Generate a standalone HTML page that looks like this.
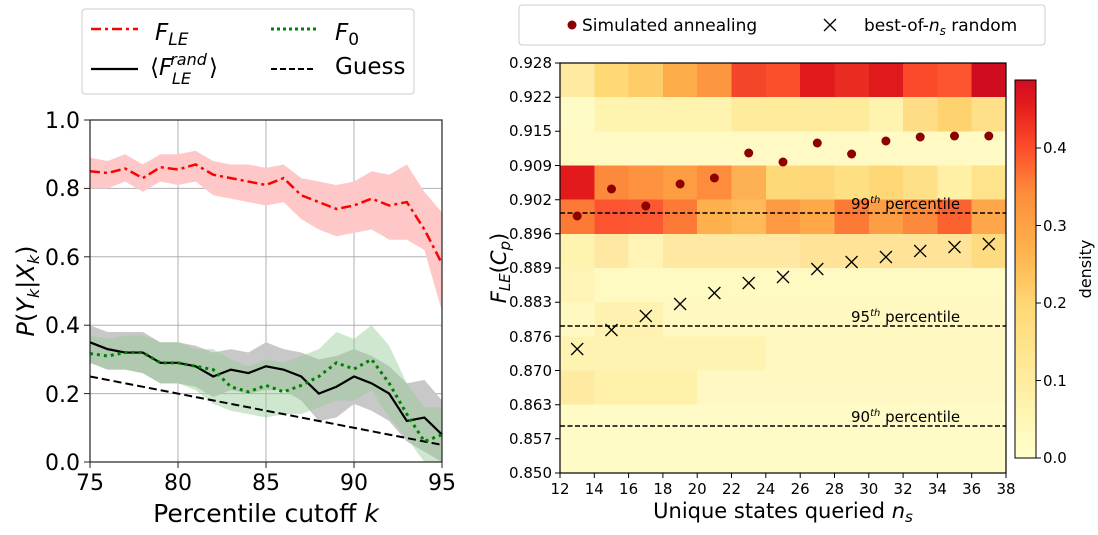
<!DOCTYPE html>
<html><head><meta charset="utf-8"><style>
body{margin:0;background:#fff;width:1098px;height:535px;overflow:hidden}
svg{display:block;font-family:"DejaVu Sans","Liberation Sans",sans-serif}
</style></head><body>
<svg width="1098" height="535" viewBox="0 0 1098 535" xmlns="http://www.w3.org/2000/svg">
<!-- LEFT PLOT -->
<g stroke="#b0b0b0" stroke-width="1">
<line x1="178" y1="120" x2="178" y2="462"/><line x1="266" y1="120" x2="266" y2="462"/><line x1="354" y1="120" x2="354" y2="462"/>
<line x1="90" y1="188.4" x2="442" y2="188.4"/><line x1="90" y1="256.8" x2="442" y2="256.8"/><line x1="90" y1="325.2" x2="442" y2="325.2"/><line x1="90" y1="393.6" x2="442" y2="393.6"/>
</g>
<g transform="translate(90,462) scale(17.6,-342)">
<polygon fill="#ffc8c8" points="0,0.89 1,0.88 2,0.90 3,0.87 4,0.90 5,0.90 6,0.91 7,0.88 8,0.87 9,0.87 10,0.86 11,0.87 12,0.83 13,0.82 14,0.81 15,0.82 16,0.85 17,0.84 18,0.87 19,0.79 20,0.73 20,0.44 19,0.62 18,0.65 17,0.65 16,0.68 15,0.67 14,0.66 13,0.68 12,0.71 11,0.76 10,0.75 9,0.76 8,0.77 7,0.78 6,0.82 5,0.81 4,0.82 3,0.79 2,0.82 1,0.80 0,0.80"/>
<polygon fill="#c8c8c8" points="0,0.40 1,0.38 2,0.38 3,0.38 4,0.35 5,0.35 6,0.34 7,0.32 8,0.33 9,0.32 10,0.35 11,0.33 12,0.32 13,0.30 14,0.31 15,0.33 16,0.31 17,0.28 18,0.23 19,0.24 20,0.18 20,0 19,0.03 18,0.06 17,0.12 16,0.15 15,0.17 14,0.13 13,0.12 12,0.18 11,0.21 10,0.21 9,0.20 8,0.21 7,0.19 6,0.22 5,0.23 4,0.23 3,0.26 2,0.27 1,0.27 0,0.29"/>
<polygon fill="#94c994" fill-opacity="0.45" points="0,0.37 1,0.36 2,0.37 3,0.37 4,0.35 5,0.35 6,0.33 7,0.33 8,0.30 9,0.28 10,0.30 11,0.29 12,0.31 13,0.33 14,0.38 15,0.36 16,0.40 17,0.34 18,0.23 19,0.16 20,0.16 20,0 19,0 18,0.07 17,0.13 16,0.21 15,0.18 14,0.18 13,0.16 12,0.14 11,0.14 10,0.13 9,0.14 8,0.15 7,0.17 6,0.21 5,0.23 4,0.23 3,0.26 2,0.27 1,0.27 0,0.29"/>
<polyline fill="none" stroke="#000" stroke-width="2" stroke-dasharray="8,4" vector-effect="non-scaling-stroke" points="0,0.25 20,0.05"/>
<polyline fill="none" stroke="#000" stroke-width="2.2" vector-effect="non-scaling-stroke" points="0,0.35 1,0.33 2,0.32 3,0.32 4,0.29 5,0.29 6,0.28 7,0.25 8,0.27 9,0.26 10,0.28 11,0.27 12,0.25 13,0.20 14,0.22 15,0.25 16,0.23 17,0.20 18,0.12 19,0.13 20,0.08"/>
<polyline fill="none" stroke="#008000" stroke-width="3" stroke-dasharray="3,4" vector-effect="non-scaling-stroke" points="0,0.317 1,0.31 2,0.32 3,0.32 4,0.29 5,0.29 6,0.28 7,0.27 8,0.22 9,0.205 10,0.224 11,0.205 12,0.224 13,0.25 14,0.29 15,0.272 16,0.30 17,0.23 18,0.14 19,0.06 20,0.08"/>
<polyline fill="none" stroke="#ff0000" stroke-width="2.5" stroke-dasharray="10,4,3,4" vector-effect="non-scaling-stroke" points="0,0.85 1,0.845 2,0.858 3,0.83 4,0.862 5,0.855 6,0.87 7,0.84 8,0.83 9,0.82 10,0.81 11,0.83 12,0.78 13,0.76 14,0.74 15,0.75 16,0.77 17,0.75 18,0.76 19,0.68 20,0.58"/>
</g>
<rect x="90" y="120" width="352" height="342" fill="none" stroke="#222" stroke-width="1.2"/>
<g stroke="#222"><line x1="84" y1="120" x2="90" y2="120"/><line x1="84" y1="188.4" x2="90" y2="188.4"/><line x1="84" y1="256.8" x2="90" y2="256.8"/><line x1="84" y1="325.2" x2="90" y2="325.2"/><line x1="84" y1="393.6" x2="90" y2="393.6"/><line x1="84" y1="462" x2="90" y2="462"/>
<line x1="90" y1="462" x2="90" y2="468"/><line x1="178" y1="462" x2="178" y2="468"/><line x1="266" y1="462" x2="266" y2="468"/><line x1="354" y1="462" x2="354" y2="468"/><line x1="442" y1="462" x2="442" y2="468"/></g>
<g font-size="22" text-anchor="end" fill="#000"><text x="80" y="128">1.0</text><text x="80" y="196">0.8</text><text x="80" y="265">0.6</text><text x="80" y="333">0.4</text><text x="80" y="402">0.2</text><text x="80" y="470">0.0</text></g>
<g font-size="22" text-anchor="middle"><text x="90" y="490">75</text><text x="178" y="490">80</text><text x="266" y="490">85</text><text x="354" y="490">90</text><text x="442" y="490">95</text></g>
<text x="266" y="522" font-size="25" text-anchor="middle">Percentile cutoff <tspan font-style="italic">k</tspan></text>
<text transform="translate(34,291) rotate(-90)" font-size="24" text-anchor="middle"><tspan font-style="italic">P</tspan>(<tspan font-style="italic">Y</tspan><tspan font-size="16" dy="5" font-style="italic">k</tspan><tspan dy="-5">|</tspan><tspan font-style="italic">X</tspan><tspan font-size="16" dy="5" font-style="italic">k</tspan><tspan dy="-5">)</tspan></text>
<!-- left legend -->
<rect x="82" y="9" width="332" height="85" rx="3" fill="#fff" stroke="#ccc"/>
<line x1="91" y1="29" x2="138" y2="29" stroke="#f00" stroke-width="2.5" stroke-dasharray="10,4,3,4"/>
<text x="155" y="40" font-size="23" font-style="italic">F<tspan font-size="17" dy="5">LE</tspan></text>
<line x1="91" y1="69" x2="138" y2="69" stroke="#000" stroke-width="2.2"/>
<text x="150" y="75" font-size="23">⟨<tspan font-style="italic">F</tspan><tspan font-size="16" dx="-2" dy="-10" font-style="italic">rand</tspan><tspan font-size="16" dx="-35" dy="19" font-style="italic">LE</tspan><tspan dx="18" dy="-9">⟩</tspan></text>
<line x1="271" y1="29" x2="316" y2="29" stroke="#008000" stroke-width="3" stroke-dasharray="3,3"/>
<text x="335" y="40" font-size="23" font-style="italic">F<tspan font-size="17" dy="5" font-style="normal">0</tspan></text>
<line x1="271" y1="69" x2="316" y2="69" stroke="#000" stroke-width="2" stroke-dasharray="6,3"/>
<text x="335" y="74" font-size="23">Guess</text>

<!-- RIGHT PLOT heatmap -->
<g shape-rendering="crispEdges">
<g transform="translate(560,63)">
<rect x="0" y="0" width="34.4" height="34.3" fill="#feeaa0"/><rect x="34.3" y="0" width="34.4" height="34.3" fill="#fed976"/><rect x="68.6" y="0" width="34.4" height="34.3" fill="#fecc68"/><rect x="102.9" y="0" width="34.4" height="34.3" fill="#fdac4a"/><rect x="137.2" y="0" width="34.4" height="34.3" fill="#fd9640"/><rect x="171.5" y="0" width="34.4" height="34.3" fill="#f4442a"/><rect x="205.8" y="0" width="34.4" height="34.3" fill="#fb4f2b"/><rect x="240.2" y="0" width="34.4" height="34.3" fill="#e31a1c"/><rect x="274.5" y="0" width="34.4" height="34.3" fill="#ea2b22"/><rect x="308.8" y="0" width="34.4" height="34.3" fill="#e01a1c"/><rect x="343.1" y="0" width="34.4" height="34.3" fill="#fb4a2a"/><rect x="377.4" y="0" width="34.4" height="34.3" fill="#fc5530"/><rect x="411.7" y="0" width="34.4" height="34.3" fill="#d00d20"/>
<rect x="0" y="34.2" width="446" height="34.3" fill="#fff3b0"/><rect x="0" y="34.2" width="34.4" height="34.3" fill="#fffbc6"/><rect x="171.5" y="34.2" width="137.3" height="34.3" fill="#ffeb9c"/><rect x="343.1" y="34.2" width="34.4" height="34.3" fill="#fedd86"/><rect x="377.4" y="34.2" width="34.4" height="34.3" fill="#fed26f"/><rect x="411.7" y="34.2" width="34.4" height="34.3" fill="#fee08a"/>
<rect x="0" y="68.4" width="446" height="34.3" fill="#fffac4"/>
<rect x="0" y="102.5" width="34.4" height="34.3" fill="#e31a1c"/><rect x="34.3" y="102.5" width="34.4" height="34.3" fill="#fd8a3c"/><rect x="68.6" y="102.5" width="34.4" height="34.3" fill="#fd9240"/><rect x="102.9" y="102.5" width="34.4" height="34.3" fill="#fd9c43"/><rect x="137.2" y="102.5" width="34.4" height="34.3" fill="#fd8c3c"/><rect x="171.5" y="102.5" width="34.4" height="34.3" fill="#feb055"/><rect x="205.8" y="102.5" width="34.4" height="34.3" fill="#fed977"/><rect x="240.2" y="102.5" width="34.4" height="34.3" fill="#fed67a"/><rect x="274.5" y="102.5" width="34.4" height="34.3" fill="#fee082"/><rect x="308.8" y="102.5" width="34.4" height="34.3" fill="#fed776"/><rect x="343.1" y="102.5" width="34.4" height="34.3" fill="#fee088"/><rect x="377.4" y="102.5" width="34.4" height="34.3" fill="#fff0a6"/><rect x="411.7" y="102.5" width="34.4" height="34.3" fill="#fee38c"/>
<rect x="0" y="136.7" width="34.4" height="34.3" fill="#fd7a36"/><rect x="34.3" y="136.7" width="34.4" height="34.3" fill="#fc5430"/><rect x="68.6" y="136.7" width="34.4" height="34.3" fill="#fc5832"/><rect x="102.9" y="136.7" width="34.4" height="34.3" fill="#fd7a36"/><rect x="137.2" y="136.7" width="34.4" height="34.3" fill="#feb04d"/><rect x="171.5" y="136.7" width="34.4" height="34.3" fill="#feba58"/><rect x="205.8" y="136.7" width="34.4" height="34.3" fill="#fd9a42"/><rect x="240.2" y="136.7" width="34.4" height="34.3" fill="#fea848"/><rect x="274.5" y="136.7" width="34.4" height="34.3" fill="#fd7a36"/><rect x="308.8" y="136.7" width="34.4" height="34.3" fill="#fe9e44"/><rect x="343.1" y="136.7" width="34.4" height="34.3" fill="#fd8a3c"/><rect x="377.4" y="136.7" width="34.4" height="34.3" fill="#fc6230"/><rect x="411.7" y="136.7" width="34.4" height="34.3" fill="#fea64a"/>
<rect x="0" y="170.8" width="446" height="34.3" fill="#ffe9a2"/><rect x="0" y="170.8" width="34.4" height="34.3" fill="#fff3b0"/><rect x="68.6" y="170.8" width="34.4" height="34.3" fill="#fff4b6"/><rect x="240.2" y="170.8" width="205" height="34.3" fill="#ffe398"/><rect x="411.7" y="170.8" width="34.4" height="34.3" fill="#fedb80"/>
<rect x="0" y="205" width="446" height="34.3" fill="#fffac2"/><rect x="0" y="205" width="34.4" height="34.3" fill="#fff4b6"/>
<rect x="0" y="239.2" width="446" height="34.3" fill="#fff8c0"/><rect x="34.3" y="239.2" width="68.6" height="34.3" fill="#fff2b0"/>
<rect x="0" y="273.4" width="446" height="34.3" fill="#fff8c0"/><rect x="0" y="273.4" width="205.8" height="34.3" fill="#fff3b2"/>
<rect x="0" y="307.5" width="446" height="34.3" fill="#fff8c2"/><rect x="0" y="307.5" width="34.4" height="34.3" fill="#feeaa0"/><rect x="34.3" y="307.5" width="102.9" height="34.3" fill="#fff0aa"/>
<rect x="0" y="341.7" width="446" height="68.4" fill="#fffbc6"/>
</g>
</g>
<g stroke="#000" stroke-width="1.5" stroke-dasharray="5,2.5"><line x1="560" y1="213" x2="1006" y2="213"/><line x1="560" y1="326" x2="1006" y2="326"/><line x1="560" y1="426" x2="1006" y2="426"/></g>
<g font-size="15"><text x="851" y="209">99<tspan font-size="10" dy="-6" font-style="italic">th</tspan><tspan dy="6"> percentile</tspan></text><text x="851" y="322">95<tspan font-size="10" dy="-6" font-style="italic">th</tspan><tspan dy="6"> percentile</tspan></text><text x="851" y="422">90<tspan font-size="10" dy="-6" font-style="italic">th</tspan><tspan dy="6"> percentile</tspan></text></g>
<g fill="#8b0000"><circle cx="577.2" cy="216" r="4.5"/><circle cx="611.5" cy="189" r="4.5"/><circle cx="645.8" cy="206" r="4.5"/><circle cx="680.1" cy="184" r="4.5"/><circle cx="714.4" cy="178" r="4.5"/><circle cx="748.7" cy="153" r="4.5"/><circle cx="783" cy="162" r="4.5"/><circle cx="817.3" cy="143" r="4.5"/><circle cx="851.6" cy="154" r="4.5"/><circle cx="885.9" cy="141" r="4.5"/><circle cx="920.2" cy="137" r="4.5"/><circle cx="954.5" cy="136" r="4.5"/><circle cx="988.8" cy="136" r="4.5"/></g>
<g stroke="#000" stroke-width="1.3" fill="none">
<path d="M571.2 343l12 12m0-12l-12 12M605.5 324l12 12m0-12l-12 12M639.8 310l12 12m0-12l-12 12M674.1 298l12 12m0-12l-12 12M708.4 287l12 12m0-12l-12 12M742.7 277l12 12m0-12l-12 12M777 271l12 12m0-12l-12 12M811.3 263l12 12m0-12l-12 12M845.6 256l12 12m0-12l-12 12M879.9 251l12 12m0-12l-12 12M914.2 245l12 12m0-12l-12 12M948.5 241l12 12m0-12l-12 12M982.8 238l12 12m0-12l-12 12"/></g>
<rect x="560" y="63" width="446" height="410" fill="none" stroke="#000" stroke-width="1.2"/>
<g stroke="#000">
<path d="M555 63h5M555 97.2h5M555 131.3h5M555 165.5h5M555 199.7h5M555 233.8h5M555 268h5M555 302.2h5M555 336.3h5M555 370.5h5M555 404.7h5M555 438.8h5M555 473h5"/>
<path d="M560 473v5M594.3 473v5M628.6 473v5M662.9 473v5M697.2 473v5M731.5 473v5M765.8 473v5M800.2 473v5M834.5 473v5M868.8 473v5M903.1 473v5M937.4 473v5M971.7 473v5M1006 473v5"/></g>
<g font-size="15" text-anchor="end"><text x="552" y="68">0.928</text><text x="552" y="102">0.922</text><text x="552" y="136">0.915</text><text x="552" y="171">0.909</text><text x="552" y="205">0.902</text><text x="552" y="239">0.896</text><text x="552" y="273">0.889</text><text x="552" y="307">0.883</text><text x="552" y="342">0.876</text><text x="552" y="376">0.870</text><text x="552" y="410">0.863</text><text x="552" y="444">0.857</text><text x="552" y="478">0.850</text></g>
<g font-size="15" text-anchor="middle"><text x="560" y="494">12</text><text x="594.3" y="494">14</text><text x="628.6" y="494">16</text><text x="662.9" y="494">18</text><text x="697.2" y="494">20</text><text x="731.5" y="494">22</text><text x="765.8" y="494">24</text><text x="800.2" y="494">26</text><text x="834.5" y="494">28</text><text x="868.8" y="494">30</text><text x="903.1" y="494">32</text><text x="937.4" y="494">34</text><text x="971.7" y="494">36</text><text x="1006" y="494">38</text></g>
<text x="783" y="518" font-size="21" text-anchor="middle">Unique states queried <tspan font-style="italic">n</tspan><tspan font-size="15" dy="4" font-style="italic">s</tspan></text>
<text transform="translate(506,268) rotate(-90)" font-size="21" text-anchor="middle"><tspan font-style="italic">F</tspan><tspan font-size="15" dy="4" font-style="italic">LE</tspan><tspan dy="-4">(</tspan><tspan font-style="italic">C</tspan><tspan font-size="15" dy="4" font-style="italic">p</tspan><tspan dy="-4">)</tspan></text>
<defs><linearGradient id="cb2" x1="0" y1="1" x2="0" y2="0"><stop offset="0" stop-color="#ffffcc"/><stop offset="0.2" stop-color="#ffeda0"/><stop offset="0.4" stop-color="#fed976"/><stop offset="0.55" stop-color="#feb24c"/><stop offset="0.7" stop-color="#fd8d3c"/><stop offset="0.82" stop-color="#fc4e2a"/><stop offset="0.94" stop-color="#e31a1c"/><stop offset="1" stop-color="#cf0c21"/></linearGradient></defs>
<rect x="1015" y="80" width="21" height="378" fill="url(#cb2)" stroke="#000" stroke-width="1"/>
<g stroke="#000"><path d="M1036 458h5M1036 380.5h5M1036 303h5M1036 225.5h5M1036 148h5"/></g>
<g font-size="15"><text x="1043" y="463">0.0</text><text x="1043" y="386">0.1</text><text x="1043" y="308">0.2</text><text x="1043" y="231">0.3</text><text x="1043" y="153">0.4</text></g>
<text transform="translate(1091,269) rotate(-90)" font-size="16" text-anchor="middle">density</text>
<rect x="519" y="5" width="526" height="40" rx="3" fill="#fff" stroke="#ccc"/>
<circle cx="572" cy="25" r="4.5" fill="#8b0000"/>
<text x="582" y="31" font-size="17">Simulated annealing</text>
<path d="M824 19l12 12m0-12l-12 12" stroke="#000" stroke-width="1.3"/>
<text x="864" y="31" font-size="17">best-of-<tspan font-style="italic">n</tspan><tspan font-size="12" dy="4" font-style="italic">s</tspan><tspan dy="-4"> random</tspan></text>
</svg>
</body></html>
